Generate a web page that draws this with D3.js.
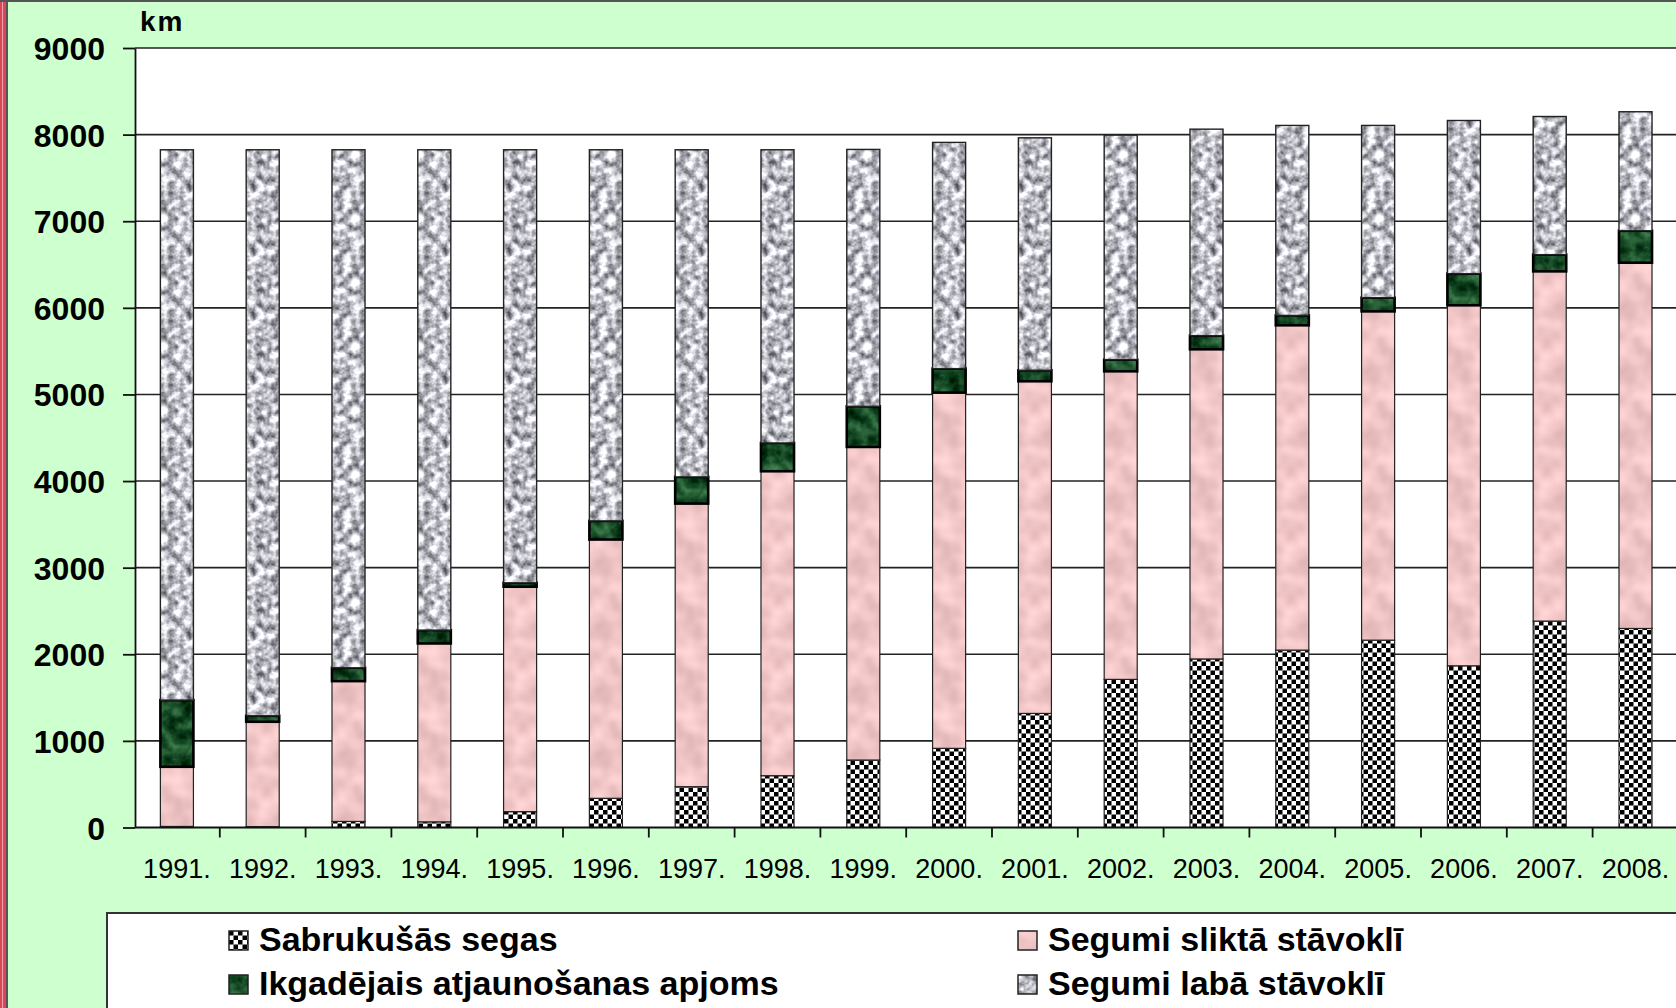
<!DOCTYPE html>
<html>
<head>
<meta charset="utf-8">
<script src="https://cdn.jsdelivr.net/npm/d3@7"></script>
<style>
  body { margin: 0; background: #ceffce; }
  svg { display: block; }
  text { font-family: "Liberation Sans", Arial, sans-serif; fill: #000; }
</style>
</head>
<body>
<script>
// data (km)
var years = ["1991.", "1992.", "1993.", "1994.", "1995.", "1996.", "1997.", "1998.", "1999.",
  "2000.", "2001.", "2002.", "2003.", "2004.", "2005.", "2006.", "2007.", "2008."];
var sabrukusas = [12, 10, 70, 65, 183, 337, 471, 598, 779, 914, 1317, 1710, 1946, 2048, 2163, 1867, 2383, 2298];
var slikta = [689, 1211, 1620, 2060, 2597, 2988, 3269, 3515, 3615, 4107, 3835, 3557, 3575, 3750, 3796, 4162, 4038, 4223];
var atjaunosana = [770, 69, 154, 154, 45, 215, 308, 327, 469, 277, 127, 135, 158, 115, 158, 365, 193, 369];
var laba = [6354, 6535, 5981, 5546, 5000, 4285, 3777, 3385, 2966, 2612, 2684, 2592, 2384, 2193, 1989, 1769, 1595, 1374];
var yTicks = [0, 1000, 2000, 3000, 4000, 5000, 6000, 7000, 8000, 9000];
var seriesNames = ["Sabrukušās segas", "Segumi sliktā stāvoklī", "Ikgadējais atjaunošanas apjoms", "Segumi labā stāvoklī"];

var keys = ["sabr", "slik", "atj", "lab"];
var rows = years.map(function(y, i) {
  return { year: y, sabr: sabrukusas[i], slik: slikta[i], atj: atjaunosana[i], lab: laba[i] };
});

var W = 1676, H = 1008;
var svg = d3.select("body").append("svg").attr("width", W).attr("height", H);

// textures
var defs = svg.append("defs");
function noiseTexture(id, freq, oct, matrix, seed) {
  var f = defs.append("filter").attr("id", id + "F")
    .attr("filterUnits", "userSpaceOnUse")
    .attr("color-interpolation-filters", "sRGB")
    .attr("x", 0).attr("y", 0).attr("width", 64).attr("height", 64);
  f.append("feTurbulence").attr("type", "fractalNoise").attr("baseFrequency", freq)
    .attr("numOctaves", oct).attr("seed", seed).attr("stitchTiles", "stitch");
  f.append("feColorMatrix").attr("type", "matrix").attr("values", matrix);
  var p = defs.append("pattern").attr("id", id).attr("patternUnits", "userSpaceOnUse")
    .attr("width", 64).attr("height", 64);
  p.append("rect").attr("width", 64).attr("height", 64).attr("filter", "url(#" + id + "F)");
}
noiseTexture("texGray", 0.12, 3, "1.25 0 0 0 0.12  1.25 0 0 0 0.12  1.25 0 0 0 0.15  0 0 0 0 1", 4);
noiseTexture("texPink", 0.05, 2, "0.25 0 0 0 0.82  0.25 0 0 0 0.65  0.25 0 0 0 0.65  0 0 0 0 1", 7);
noiseTexture("texGreen", 0.07, 3, "0.45 0 0 0 -0.13  0.6 0 0 0 0.0  0.45 0 0 0 -0.07  0 0 0 0 1", 2);

var chk = defs.append("pattern").attr("id", "texCheck").attr("patternUnits", "userSpaceOnUse")
  .attr("width", 9).attr("height", 9);
chk.append("rect").attr("width", 9).attr("height", 9).attr("fill", "#fff");
chk.append("rect").attr("width", 4.5).attr("height", 4.5).attr("fill", "#000");
chk.append("rect").attr("x", 4.5).attr("y", 4.5).attr("width", 4.5).attr("height", 4.5).attr("fill", "#000");

var fills = { sabr: "url(#texCheck)", slik: "url(#texPink)", atj: "url(#texGreen)", lab: "url(#texGray)" };
var strokes = { sabr: 1.2, slik: 1.2, atj: 2.6, lab: 1.4 };

// frame
svg.append("rect").attr("width", W).attr("height", H).attr("fill", "#ceffce");
svg.append("rect").attr("x", 0).attr("y", 0).attr("width", 6).attr("height", H).attr("fill", "#d9475a");
svg.append("line").attr("x1", 2.5).attr("x2", 2.5).attr("y1", 0).attr("y2", H).attr("stroke", "#f3a0a8").attr("stroke-width", 1);
svg.append("line").attr("x1", 7).attr("x2", 7).attr("y1", 0).attr("y2", H).attr("stroke", "#555").attr("stroke-width", 2);
svg.append("line").attr("x1", 0).attr("x2", W).attr("y1", 1).attr("y2", 1).attr("stroke", "#555").attr("stroke-width", 2);

var plotLeft = 135, plotTop = 48, plotBottom = 827.5, step = 85.8;
var x = d3.scaleBand().domain(years).range([plotLeft - 1, plotLeft - 1 + step * years.length])
  .paddingInner(0.615).paddingOuter(0.3075);
var y = d3.scaleLinear().domain([0, 9000]).range([plotBottom, plotTop]);

svg.append("rect").attr("x", plotLeft).attr("y", plotTop).attr("width", W - plotLeft + 10).attr("height", plotBottom - plotTop)
  .attr("fill", "#fff");

// grid
svg.append("g").selectAll("line").data(yTicks.slice(1)).join("line")
  .attr("x1", plotLeft).attr("x2", W + 5)
  .attr("y1", function(d) { return y(d); }).attr("y2", function(d) { return y(d); })
  .attr("stroke", "#222").attr("stroke-width", 1.6);

// bars
var stacked = d3.stack().keys(keys)(rows);
svg.append("g").selectAll("g").data(stacked).join("g")
  .attr("fill", function(s) { return fills[s.key]; })
  .attr("stroke", function(s) { return s.key === "atj" ? "#000" : "#222"; })
  .attr("stroke-width", function(s) { return strokes[s.key]; })
  .selectAll("rect").data(function(s) { return s; }).join("rect")
  .attr("x", function(d) { return x(d.data.year); })
  .attr("width", x.bandwidth())
  .attr("y", function(d) { return y(d[1]); })
  .attr("height", function(d) { return y(d[0]) - y(d[1]); });

// y axis
var yAxis = svg.append("g").attr("transform", "translate(" + plotLeft + ",0)")
  .call(d3.axisLeft(y).tickValues(yTicks).tickFormat(d3.format("d"))
    .tickSize(12).tickSizeOuter(0).tickPadding(18));
yAxis.selectAll("path, line").attr("stroke", "#111").attr("stroke-width", 1.8);
yAxis.selectAll("text").style("font-size", "32px").style("font-weight", "bold")
  .style("font-family", "'Liberation Sans', Arial, sans-serif").attr("fill", "#000").attr("dy", "0.36em");

// x axis
var xAxis = svg.append("g").attr("transform", "translate(0," + plotBottom + ")")
  .call(d3.axisBottom(x).tickSize(0).tickSizeOuter(0).tickPadding(31));
xAxis.select(".domain").attr("stroke", "#111").attr("stroke-width", 1.8)
  .attr("d", "M" + plotLeft + ",0H" + (W + 5));
xAxis.selectAll("text").style("font-size", "27px")
  .style("font-family", "'Liberation Sans', Arial, sans-serif").attr("fill", "#000");
svg.append("g").selectAll("line").data(years).join("line")
  .attr("x1", function(d) { return x(d) + x.bandwidth() / 2 + step / 2; })
  .attr("x2", function(d) { return x(d) + x.bandwidth() / 2 + step / 2; })
  .attr("y1", plotBottom).attr("y2", plotBottom + 10)
  .attr("stroke", "#111").attr("stroke-width", 1.8);

svg.append("text").attr("x", 140).attr("y", 31).text("km")
  .style("font-size", "28px").style("font-weight", "bold").style("letter-spacing", "2px");

// legend
svg.append("rect").attr("x", 107).attr("y", 913).attr("width", W).attr("height", 200)
  .attr("fill", "#fff").attr("stroke", "#333").attr("stroke-width", 2);
var legendPos = [[229, 931], [1018, 931], [229, 975], [1018, 975]];
var legendKeys = ["sabr", "slik", "atj", "lab"];
var lg = svg.append("g").selectAll("g").data(legendKeys).join("g")
  .attr("transform", function(d, i) { return "translate(" + legendPos[i][0] + "," + legendPos[i][1] + ")"; });
lg.append("rect").attr("width", 19).attr("height", 19)
  .attr("fill", function(d) { return fills[d]; })
  .attr("stroke", "#222").attr("stroke-width", 1.5);
lg.append("text").attr("x", 30).attr("y", 20)
  .text(function(d) { return seriesNames[keys.indexOf(d)]; })
  .style("font-size", "34px").style("font-weight", "bold");
</script>
</body>
</html>
